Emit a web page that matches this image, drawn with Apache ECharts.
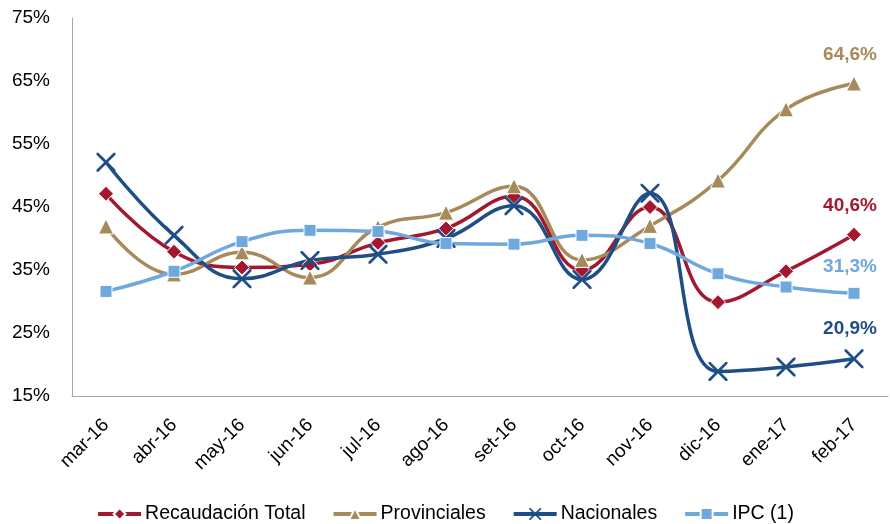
<!DOCTYPE html>
<html>
<head>
<meta charset="utf-8">
<script src="https://cdn.jsdelivr.net/npm/echarts@6/dist/echarts.min.js"></script>
<style>
  html, body { margin: 0; padding: 0; background: #fff; }
  #chart { width: 890px; height: 524px; }
</style>
</head>
<body>
<div id="chart"></div>
<script>
// meses
var meses = ["mar-16", "abr-16", "may-16", "jun-16", "jul-16", "ago-16", "set-16", "oct-16", "nov-16", "dic-16", "ene-17", "feb-17"];
// variacion interanual en %
var recaudacion = [47.1, 37.9, 35.4, 35.9, 39.3, 41.6, 46.7, 35.0, 45.0, 29.9, 34.8, 40.6];
var provinciales = [41.9, 34.3, 37.8, 33.8, 41.8, 44.1, 48.3, 36.6, 42.0, 49.2, 60.5, 64.6];
var nacionales = [52.1, 40.5, 33.6, 36.5, 37.5, 40.0, 45.2, 33.5, 47.2, 18.9, 19.6, 20.9];
var ipc = [31.6, 34.8, 39.5, 41.3, 41.1, 39.2, 39.1, 40.5, 39.2, 34.4, 32.3, 31.3];

var fuente = "Liberation Sans";
var cruz = "path://M0,0 L2,0 L10,8 L18,0 L20,0 L20,2 L12,10 L20,18 L20,20 L18,20 L10,12 L2,20 L0,20 L0,18 L8,10 L0,2 Z";

// solo se muestra la etiqueta del ultimo punto
function ultimo(color) {
  return {
    show: true,
    position: "top",
    distance: 11,
    offset: [-4, 0],
    color: color,
    fontFamily: fuente,
    fontSize: 19,
    fontWeight: "bold",
    formatter: function (p) {
      if (p.dataIndex !== meses.length - 1) return "";
      return p.value.toFixed(1).replace(".", ",") + "%";
    }
  };
}

function serie(nombre, datos, color, simbolo, tam) {
  return {
    name: nombre,
    type: "line",
    smooth: 0.45,
    data: datos,
    symbol: simbolo,
    symbolSize: tam,
    showAllSymbol: true,
    lineStyle: { color: color, width: 3.5 },
    itemStyle: { color: color, borderColor: "#fff", borderWidth: simbolo === cruz ? 0 : 1 },
    label: ultimo(color)
  };
}

var myChart = echarts.init(document.getElementById("chart"));
var option = {
  animation: false,
  textStyle: { fontFamily: fuente },
  grid: { left: 72, right: 2, top: 18, bottom: 128 },
  legend: {
    top: 499,
    left: "center",
    itemWidth: 43,
    itemHeight: 15,
    itemGap: 26,
    lineStyle: { width: 4 },
    textStyle: { fontFamily: fuente, fontSize: 19.5, color: "#000", padding: [0, 0, 0, -1] },
    data: ["Recaudación Total", "Provinciales", "Nacionales", "IPC (1)"]
  },
  xAxis: {
    type: "category",
    data: meses,
    boundaryGap: true,
    axisLine: { lineStyle: { color: "#a6a6a6", width: 1 } },
    axisTick: { alignWithLabel: true, length: 6, lineStyle: { color: "#a6a6a6" } },
    axisLabel: { rotate: 45, margin: 26, color: "#000", fontFamily: fuente, fontSize: 19, interval: 0 }
  },
  yAxis: {
    type: "value",
    min: 15,
    max: 75,
    interval: 10,
    splitLine: { show: false },
    axisLine: { show: true, lineStyle: { color: "#a6a6a6", width: 1 } },
    axisTick: { show: false },
    axisLabel: { margin: 22, color: "#000", fontFamily: fuente, fontSize: 19, formatter: "{value}%" }
  },
  series: [
    serie("Recaudación Total", recaudacion, "#a3172f", "diamond", 15),
    serie("Provinciales", provinciales, "#a68a5a", "triangle", 15),
    serie("Nacionales", nacionales, "#1f4e87", cruz, 19),
    serie("IPC (1)", ipc, "#6fa8dc", "rect", 12)
  ]
};
myChart.setOption(option);
</script>
</body>
</html>
